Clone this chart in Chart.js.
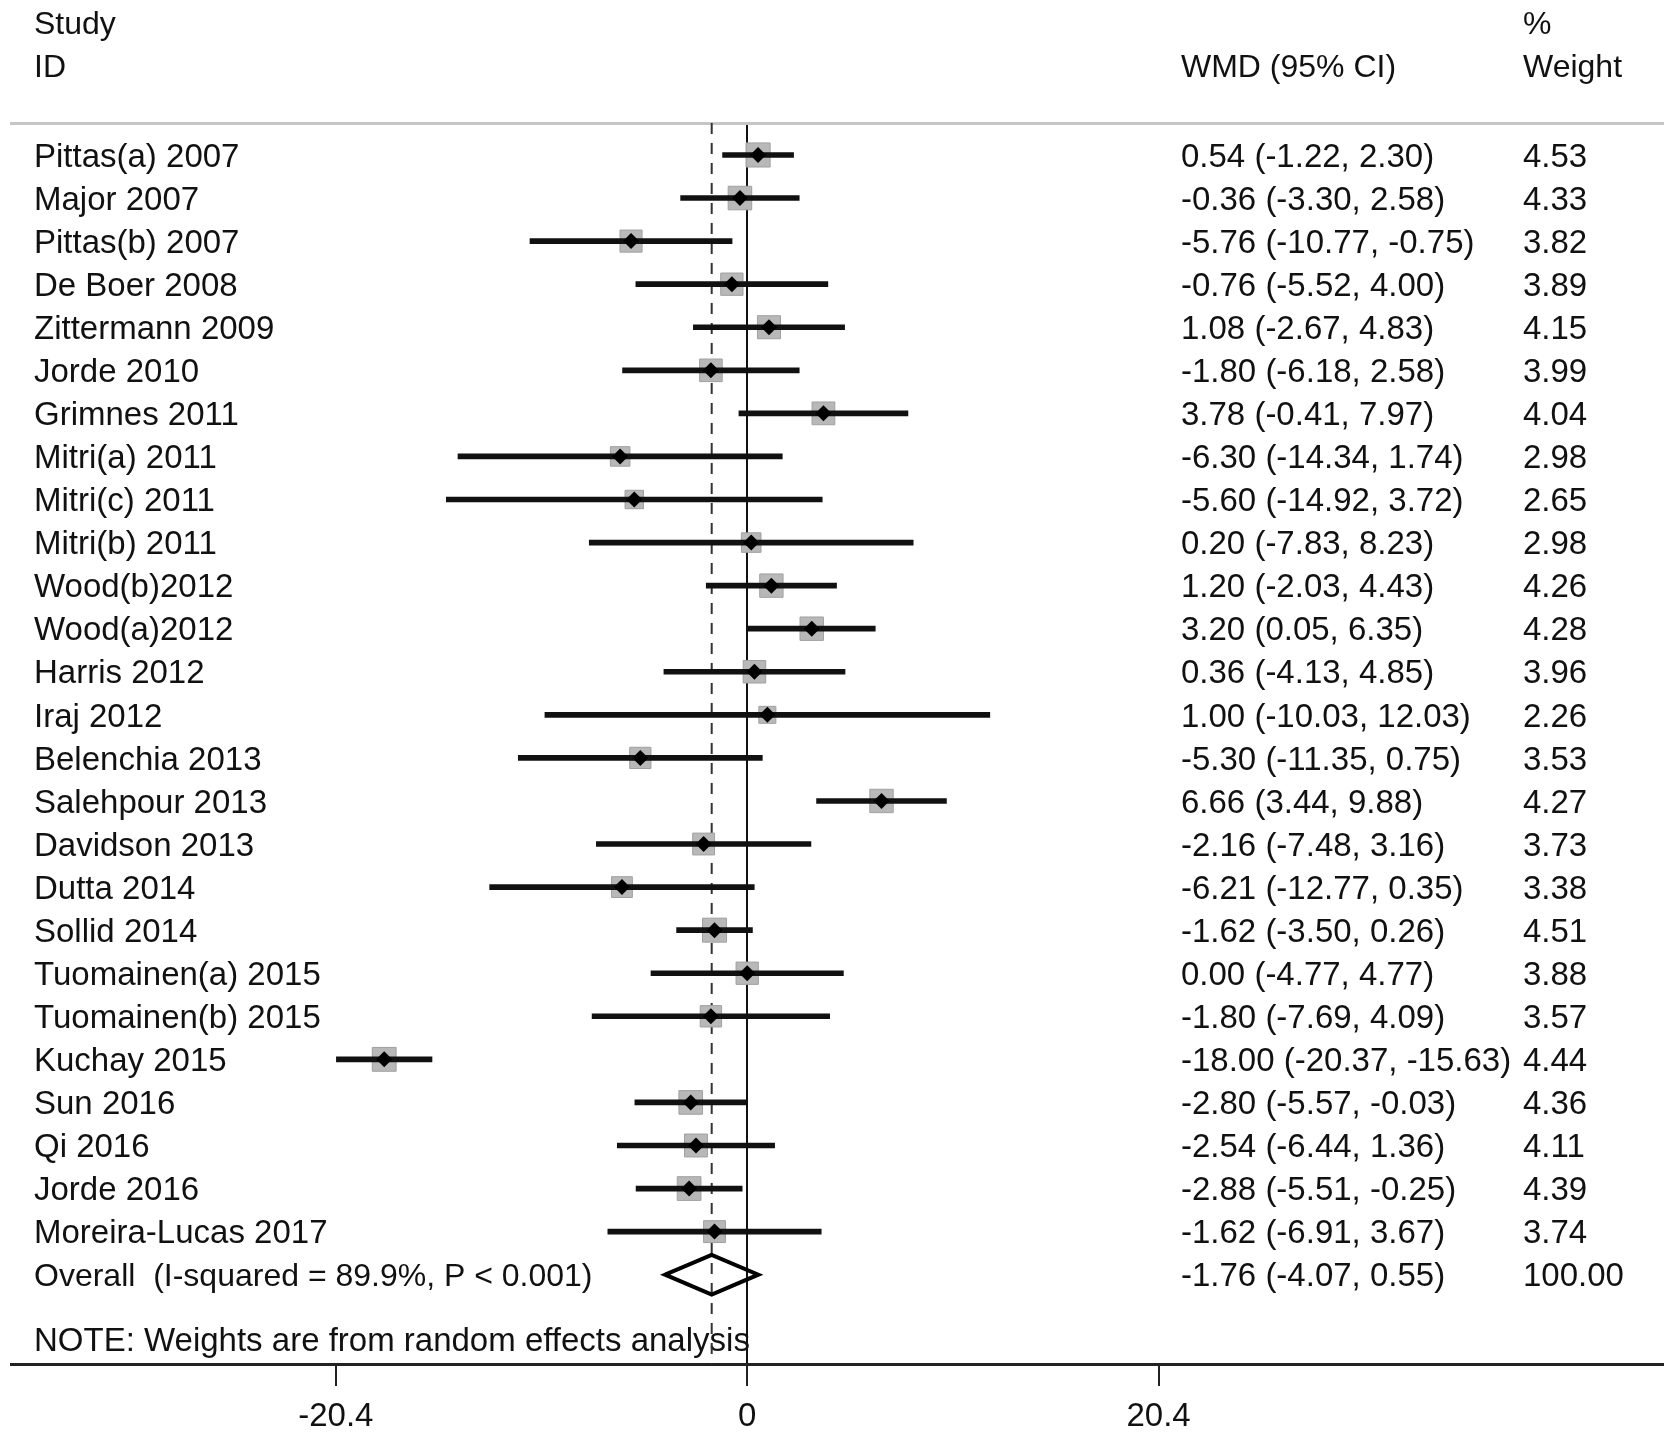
<!DOCTYPE html>
<html>
<head>
<meta charset="utf-8">
<script src="https://cdn.jsdelivr.net/npm/chart.js@4.4.1/dist/chart.umd.min.js"></script>
<style>
html,body{margin:0;padding:0;background:#fff;}
canvas{display:block;}
</style>
</head>
<body>
<canvas id="c" width="1677" height="1440"></canvas>
<script>
// ---------------- data ----------------
const studies = ["Pittas(a) 2007","Major 2007","Pittas(b) 2007","De Boer 2008","Zittermann 2009","Jorde 2010","Grimnes 2011","Mitri(a) 2011","Mitri(c) 2011","Mitri(b) 2011","Wood(b)2012","Wood(a)2012","Harris 2012","Iraj 2012","Belenchia 2013","Salehpour 2013","Davidson 2013","Dutta 2014","Sollid 2014","Tuomainen(a) 2015","Tuomainen(b) 2015","Kuchay 2015","Sun 2016","Qi 2016","Jorde 2016","Moreira-Lucas 2017"];
const wmd = [0.54,-0.36,-5.76,-0.76,1.08,-1.80,3.78,-6.30,-5.60,0.20,1.20,3.20,0.36,1.00,-5.30,6.66,-2.16,-6.21,-1.62,0.00,-1.80,-18.00,-2.80,-2.54,-2.88,-1.62];
const ciLow = [-1.22,-3.30,-10.77,-5.52,-2.67,-6.18,-0.41,-14.34,-14.92,-7.83,-2.03,0.05,-4.13,-10.03,-11.35,3.44,-7.48,-12.77,-3.50,-4.77,-7.69,-20.37,-5.57,-6.44,-5.51,-6.91];
const ciHigh = [2.30,2.58,-0.75,4.00,4.83,2.58,7.97,1.74,3.72,8.23,4.43,6.35,4.85,12.03,0.75,9.88,3.16,0.35,0.26,4.77,4.09,-15.63,-0.03,1.36,-0.25,3.67];
const weights = [4.53,4.33,3.82,3.89,4.15,3.99,4.04,2.98,2.65,2.98,4.26,4.28,3.96,2.26,3.53,4.27,3.73,3.38,4.51,3.88,3.57,4.44,4.36,4.11,4.39,3.74];
const overallEst = -1.76;
const overallLow = -4.07;
const overallHigh = 0.55;
const overallWeight = 100.00;
const overallLabel = "Overall  (I-squared = 89.9%, P < 0.001)";
const noteText = "NOTE: Weights are from random effects analysis";
const xTickValues = [-20.4, 0, 20.4];
const xTickLabels = ["-20.4", "0", "20.4"];
const headerStudy = ["Study", "ID"];
const headerWmd = ["WMD (95% CI)"];
const headerWeight = ["%", "Weight"];

// ---------------- derived ----------------
const rows = studies.map((_, i) => i + 1);
const overallRow = studies.length + 1;
const noteRow = overallRow + 1.5;
const fmt = v => v.toFixed(2);
const wmdLabels = wmd.map((v, i) => `${fmt(v)} (${fmt(ciLow[i])}, ${fmt(ciHigh[i])})`)
  .concat([`${fmt(overallEst)} (${fmt(overallLow)}, ${fmt(overallHigh)})`]);
const weightLabels = weights.map(fmt).concat([fmt(overallWeight)]);
const studyLabels = studies.concat([overallLabel, noteText]);
const studyRows = rows.concat([overallRow, noteRow]);
const statRows = rows.concat([overallRow]);

// ---------------- layout constants ----------------
const Y_MIN = 0.2575, Y_MAX = 29.074;
const TEXT_SHIFT = 0.06;          // text rows sit ~2.5px lower than the marks
const X_MIN = -36.505, X_MAX = 45.411;
const FONT = "'Liberation Sans', Arial, Helvetica, sans-serif";
const TEXT = '#111';
const DIAMOND_HALF = 0.46;
const BOX_SCALE = 8;

Chart.defaults.font.family = FONT;
Chart.defaults.color = TEXT;

function rowAxis(labels, tickRows, pad, fontFn) {
  return {
    type: 'linear', position: 'left', reverse: true,
    min: Y_MIN - TEXT_SHIFT, max: Y_MAX - TEXT_SHIFT, bounds: 'data',
    offset: false, beginAtZero: false,
    grid: { display: false, offset: false }, border: { display: false },
    ticks: { mirror: true, padding: pad, autoSkip: false, color: TEXT, font: fontFn,
      callback: (v, i) => labels[i] },
    afterBuildTicks: s => { s.ticks = tickRows.map(v => ({ value: v })); },
    afterFit: s => { s.width = 0; s.paddingTop = 0; s.paddingBottom = 0; }
  };
}

const headerPlugin = {
  id: 'headers',
  afterDraw(chart) {
    const ctx = chart.ctx;
    ctx.save();
    ctx.font = `32px ${FONT}`;
    ctx.fillStyle = TEXT;
    ctx.textAlign = 'left';
    ctx.textBaseline = 'middle';
    ctx.fillText(headerStudy[0], 34, 25);
    ctx.fillText(headerStudy[1], 34, 68);
    ctx.fillText(headerWmd[0], 1181, 68);
    ctx.fillText(headerWeight[0], 1523, 25);
    ctx.fillText(headerWeight[1], 1523, 68);
    ctx.restore();
  }
};

const pts = wmd.map((v, i) => ({ x: v, y: rows[i] }));

new Chart(document.getElementById('c'), {
  type: 'scatter',
  data: {
    datasets: [
      { // dashed overall line
        type: 'scatter', showLine: true, yAxisID: 'yData',
        data: [{ x: overallEst, y: Y_MIN }, { x: overallEst, y: Y_MAX }],
        borderColor: '#333', borderWidth: 2, borderDash: [11, 9], pointRadius: 0, order: 5
      },
      { // weight boxes
        type: 'scatter', data: pts, pointStyle: 'rect', yAxisID: 'yData',
        pointRadius: c => BOX_SCALE * Math.sqrt(weights[c.dataIndex]),
        backgroundColor: '#b8b8b8', borderColor: '#a0a0a0', borderWidth: 1, order: 4
      },
      { // confidence intervals
        type: 'bar', indexAxis: 'y', yAxisID: 'yData',
        data: ciLow.map((l, i) => ({ y: rows[i], x: [l, ciHigh[i]] })),
        backgroundColor: '#111', borderWidth: 0, barThickness: 5, order: 3
      },
      { // overall diamond
        type: 'scatter', showLine: true, yAxisID: 'yData',
        data: [
          { x: overallLow, y: overallRow },
          { x: overallEst, y: overallRow - DIAMOND_HALF },
          { x: overallHigh, y: overallRow },
          { x: overallEst, y: overallRow + DIAMOND_HALF },
          { x: overallLow, y: overallRow },
          { x: overallEst, y: overallRow - DIAMOND_HALF }
        ],
        borderColor: '#000', borderWidth: 4, borderJoinStyle: 'miter', pointRadius: 0,
        fill: false, tension: 0, order: 2
      },
      { // point estimates
        type: 'scatter', data: pts, pointStyle: 'rectRot', pointRadius: 8, yAxisID: 'yData',
        backgroundColor: '#000', borderWidth: 0, order: 1
      }
    ]
  },
  options: {
    responsive: false, animation: false, events: [], devicePixelRatio: 1,
    layout: { autoPadding: false, padding: { left: 11, right: 14, top: 123, bottom: 0 } },
    plugins: { legend: { display: false }, tooltip: { enabled: false } },
    scales: {
      x: {
        type: 'linear', position: 'bottom', min: X_MIN, max: X_MAX, bounds: 'data',
        offset: false, beginAtZero: false,
        grid: {
          color: c => (c.tick && c.tick.value === 0) ? '#111' : 'rgba(0,0,0,0)',
          lineWidth: 2, tickColor: '#222', tickWidth: 2, tickLength: 22, offset: false
        },
        border: { display: true, color: '#222', width: 3 },
        ticks: { font: { size: 33 }, color: TEXT, padding: 11, autoSkip: false, maxRotation: 0,
          callback: (v, i) => xTickLabels[i] },
        afterBuildTicks: s => { s.ticks = xTickValues.map(v => ({ value: v })); },
        afterFit: s => { s.height = 76; s.paddingLeft = 0; s.paddingRight = 0; }
      },
      xTop: {
        type: 'linear', position: 'top', min: X_MIN, max: X_MAX, offset: false,
        grid: { display: false, drawTicks: false },
        border: { display: true, color: '#c6c6c6', width: 3 },
        ticks: { display: false },
        afterFit: s => { s.height = 0; s.paddingLeft = 0; s.paddingRight = 0; }
      },
      yData: {
        type: 'linear', display: false, reverse: true, min: Y_MIN, max: Y_MAX,
        bounds: 'data', offset: false, beginAtZero: false, grid: { offset: false }
      },
      y: rowAxis(studyLabels, studyRows, 23,
        c => ({ size: c.index === studies.length ? 32 : 33 })),
      yWmd: rowAxis(wmdLabels, statRows, 1170, () => ({ size: 33 })),
      yWt: rowAxis(weightLabels, statRows, 1512, () => ({ size: 33 }))
    }
  },
  plugins: [headerPlugin]
});
</script>
</body>
</html>
